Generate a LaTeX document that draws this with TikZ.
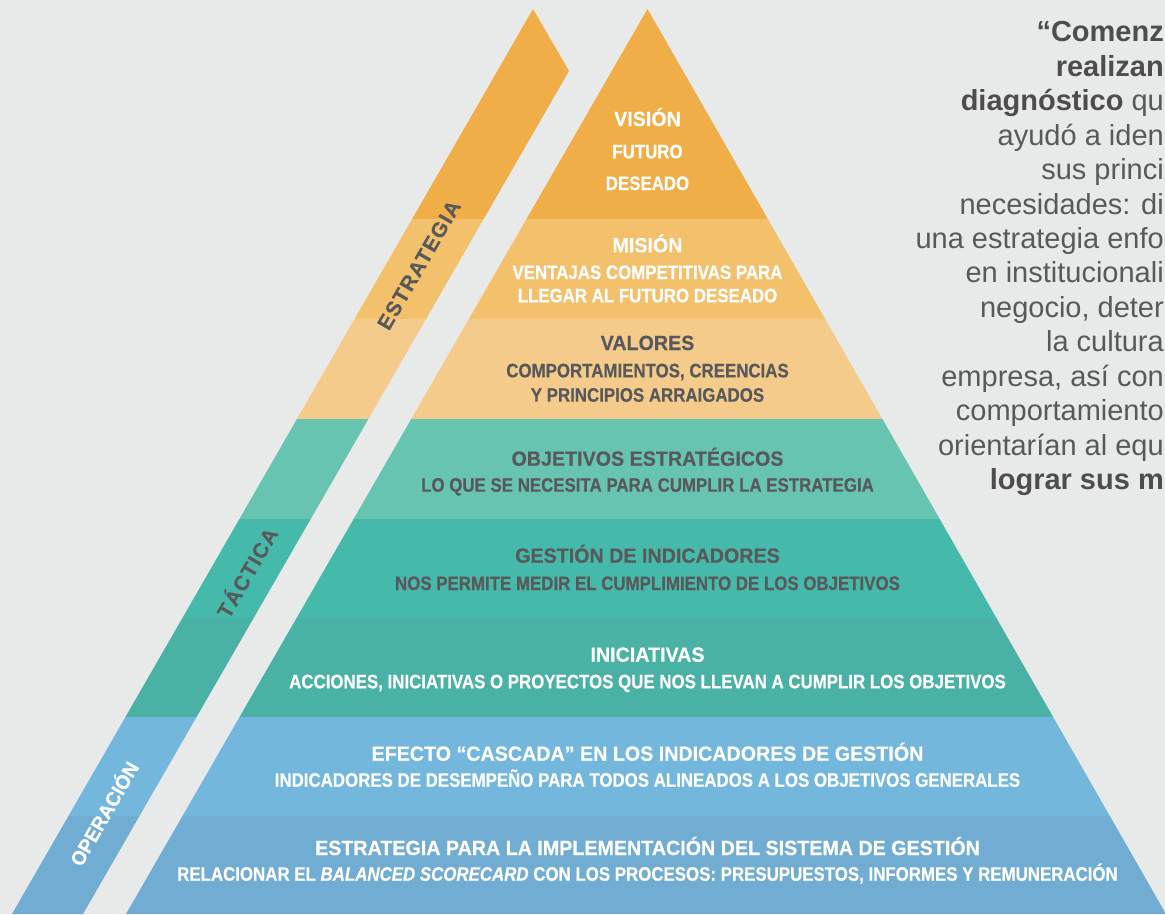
\documentclass[tikz,border=0pt]{standalone}
\usepackage{fontspec}
\setmainfont{Liberation Sans}
\newfontfamily\titlef[FakeStretch=0.96,FakeBold=0.4]{Liberation Sans}
\newfontfamily\subf[FakeStretch=0.865,FakeBold=0.4]{Liberation Sans}
\newfontfamily\labf[LetterSpace=6,FakeBold=0.3]{Liberation Sans}
\newfontfamily\labg[FakeStretch=0.96,FakeBold=0.3]{Liberation Sans}
\definecolor{bg}{HTML}{E8EAE9}
\definecolor{cA}{HTML}{EFAE48}
\definecolor{cB}{HTML}{F3C06C}
\definecolor{cC}{HTML}{F5CB8B}
\definecolor{cD}{HTML}{67C4B1}
\definecolor{cE}{HTML}{46BAAA}
\definecolor{cF}{HTML}{4AB1A5}
\definecolor{cG}{HTML}{74B7DD}
\definecolor{cH}{HTML}{71ADD2}
\definecolor{tdark}{HTML}{58595B}
\definecolor{rgray}{HTML}{58595B}
\definecolor{rbold}{HTML}{4D4D4F}
\tikzset{
  ttl/.style={font=\titlef\bfseries\fontsize{20.5}{24}\selectfont, anchor=base, inner sep=0pt},
  sbl/.style={font=\subf\bfseries\fontsize{19.5}{23}\selectfont, anchor=base, inner sep=0pt},
  wt/.style={text=white},
  dk/.style={text=tdark},
  rt/.style={font=\fontsize{29}{35}\selectfont, text=rgray, anchor=base east, inner sep=0pt},
  rtb/.style={rt, text=rbold, font=\bfseries\fontsize{29}{35}\selectfont},
  stripl/.style={font=\labf\bfseries\fontsize{21}{24}\selectfont, rotate=60, inner sep=0pt},
}
\newcommand{\layerfills}{%
  \fill[cA] (0,0) rectangle (1170,219);
  \fill[cB] (0,219) rectangle (1170,319);
  \fill[cC] (0,319) rectangle (1170,419);
  \fill[cD] (0,419) rectangle (1170,519);
  \fill[cE] (0,519) rectangle (1170,618);
  \fill[cF] (0,618) rectangle (1170,717);
  \fill[cG] (0,717) rectangle (1170,816);
  \fill[cH] (0,816) rectangle (1170,920);
}
\begin{document}
\begin{tikzpicture}[x=1pt,y=-1pt]
\useasboundingbox (0,0) rectangle (1165,914);
\fill[bg] (0,0) rectangle (1165,914);
% pyramid
\begin{scope}
  \clip (647.5,9) -- (1166,914) -- (126,914) -- cycle;
  \layerfills
\end{scope}
% side strip
\begin{scope}
  \clip (533,9) -- (569,71) -- (83,914) -- (12,914) -- cycle;
  \layerfills
\end{scope}
% strip labels
\node[stripl, text=tdark] (lestr) at (419,265) {ESTRATEGIA};
\node[stripl, text=tdark] (ltact) at (246,572) {TÁCTICA};
\node[stripl, text=white, font=\labg\bfseries\fontsize{20}{23}\selectfont] (loper) at (103,813) {OPERACIÓN};
% pyramid texts
\node[ttl,wt] (t1a) at (647.5,126) {VISIÓN};
\node[sbl,wt] (t1b) at (647.5,158.3) {FUTURO};
\node[sbl,wt] (t1c) at (647.5,190) {DESEADO};
\node[ttl,wt] (t2a) at (647.5,252.3) {MISIÓN};
\node[sbl,wt] (t2b) at (647.5,279) {VENTAJAS COMPETITIVAS PARA};
\node[sbl,wt] (t2c) at (647.5,302.3) {LLEGAR AL FUTURO DESEADO};
\node[ttl,dk] (t3a) at (647.5,350) {VALORES};
\node[sbl,dk] (t3b) at (647.5,377.3) {COMPORTAMIENTOS, CREENCIAS};
\node[sbl,dk] (t3c) at (647.5,401.7) {Y PRINCIPIOS ARRAIGADOS};
\node[ttl,dk] (t4a) at (647.5,465.7) {OBJETIVOS ESTRATÉGICOS};
\node[sbl,dk] (t4b) at (647.5,491.7) {LO QUE SE NECESITA PARA CUMPLIR LA ESTRATEGIA};
\node[ttl,dk] (t5a) at (647.5,562.7) {GESTIÓN DE INDICADORES};
\node[sbl,dk] (t5b) at (647.5,590) {NOS PERMITE MEDIR EL CUMPLIMIENTO DE LOS OBJETIVOS};
\node[ttl,wt] (t6a) at (647.5,661.7) {INICIATIVAS};
\node[sbl,wt] (t6b) at (647.5,688.3) {ACCIONES, INICIATIVAS O PROYECTOS QUE NOS LLEVAN A CUMPLIR LOS OBJETIVOS};
\node[ttl,wt] (t7a) at (647.5,760.7) {EFECTO “CASCADA” EN LOS INDICADORES DE GESTIÓN};
\node[sbl,wt] (t7b) at (647.5,786.7) {INDICADORES DE DESEMPEÑO PARA TODOS ALINEADOS A LOS OBJETIVOS GENERALES};
\node[ttl,wt] (t8a) at (647.5,855) {ESTRATEGIA PARA LA IMPLEMENTACIÓN DEL SISTEMA DE GESTIÓN};
\node[sbl,wt] (t8b) at (647.5,880.7) {RELACIONAR EL \textit{BALANCED SCORECARD} CON LOS PROCESOS: PRESUPUESTOS, INFORMES Y REMUNERACIÓN};
% right quote text
\node[rtb] (q1) at (1164,41.7) {“Comenz};
\node[rtb] (q2) at (1164,76.2) {realizan};
\node[rt] (q3) at (1164,110.6) {\textcolor{rbold}{\bfseries diagnóstico} qu};
\node[rt] (q4) at (1164,145.1) {ayudó a iden};
\node[rt] (q5) at (1164,179.5) {sus princi};
\node[rt] (q6) at (1164,214) {necesidades: di};
\node[rt] (q7) at (1164,248.4) {una estrategia enfo};
\node[rt] (q8) at (1164,282.9) {en institucionali};
\node[rt] (q9) at (1164,317.3) {negocio, deter};
\node[rt] (q10) at (1164,351.8) {la cultura};
\node[rt] (q11) at (1164,386.2) {empresa, así con};
\node[rt] (q12) at (1164,420.7) {comportamiento};
\node[rt] (q13) at (1164,455.1) {orientarían al equ};
\node[rtb] (q14) at (1164,489.6) {lograr sus m};
\end{tikzpicture}
\end{document}
